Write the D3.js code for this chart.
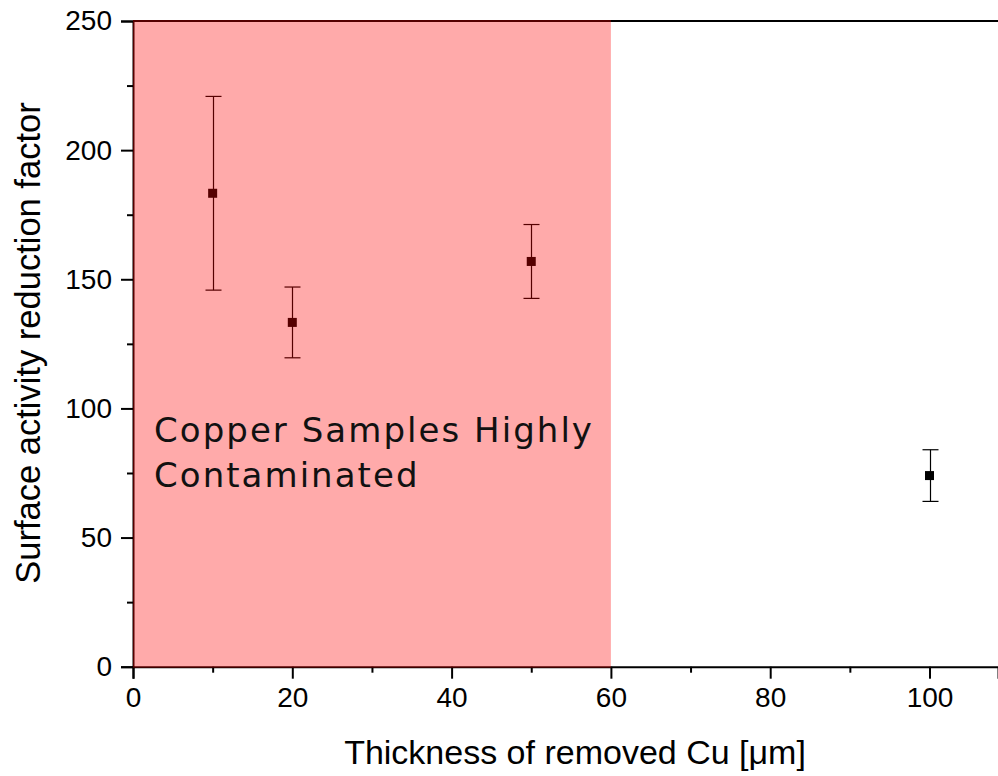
<!DOCTYPE html>
<html>
<head>
<meta charset="utf-8">
<script src="https://cdn.jsdelivr.net/npm/d3@7"></script>
<style>
  html, body { margin: 0; padding: 0; background: #fff; }
  svg { display: block; }
</style>
</head>
<body>
<svg id="chart" width="998" height="776"></svg>
<script>
// ---- data ----
const thickness = [10, 20, 50, 100];
const reduction = [183.3, 133.3, 156.9, 74.0];
const errors = [37.5, 13.7, 14.3, 10.0];
const xTicks = [0, 20, 40, 60, 80, 100];
const xMinorTicks = [10, 30, 50, 70, 90];
const yTicks = [0, 50, 100, 150, 200, 250];
const yMinorTicks = [25, 75, 125, 175, 225];
const regionRange = [0, 60];
const regionLabel = ["Copper Samples Highly", "Contaminated"];
const xTitle = "Thickness of removed Cu [\u03bcm]";
const yTitle = "Surface activity reduction factor";

// ---- layout ----
const svg = d3.select("#chart");
const plotL = 133, plotR = 998, plotT = 21, plotB = 666.7;
const x = d3.scaleLinear().domain([0, 108.6]).range([plotL, plotR]);
const y = d3.scaleLinear().domain([0, 250]).range([plotB, plotT]);
const axisFont = "'Liberation Sans', Arial, sans-serif";

// top frame line
svg.append("line")
  .attr("x1", plotL).attr("x2", plotR)
  .attr("y1", plotT).attr("y2", plotT)
  .attr("stroke", "#000").attr("stroke-width", 2);

// x axis
const gx = svg.append("g").attr("transform", `translate(0,${plotB})`);
gx.call(d3.axisBottom(x).tickValues(xTicks).tickSize(12).tickPadding(8).tickFormat(d3.format("d")));
const gxm = svg.append("g").attr("transform", `translate(0,${plotB})`);
gxm.call(d3.axisBottom(x).tickValues(xMinorTicks).tickSize(6).tickFormat(""));
gxm.select(".domain").remove();

// y axis
const gy = svg.append("g").attr("transform", `translate(${plotL},0)`);
gy.call(d3.axisLeft(y).tickValues(yTicks).tickSize(12).tickPadding(9).tickFormat(d3.format("d")));
const gym = svg.append("g").attr("transform", `translate(${plotL},0)`);
gym.call(d3.axisLeft(y).tickValues(yMinorTicks).tickSize(6).tickFormat(""));
gym.select(".domain").remove();

svg.selectAll(".domain").attr("stroke", "#000").attr("stroke-width", 2);
svg.selectAll(".tick line").attr("stroke", "#000").attr("stroke-width", 2);
svg.selectAll(".tick text")
  .attr("font-family", axisFont).attr("font-size", 28).attr("fill", "#000");

// axis titles
svg.append("text")
  .attr("x", 575).attr("y", 764)
  .attr("text-anchor", "middle")
  .attr("font-family", axisFont).attr("font-size", 34)
  .text(xTitle);
svg.append("text")
  .attr("transform", "translate(40,343) rotate(-90)")
  .attr("text-anchor", "middle")
  .attr("font-family", axisFont).attr("font-size", 34.5)
  .text(yTitle);

// error bars
const pts = thickness.map((t, i) => ({ x: t, y: reduction[i], e: errors[i] }));
const eg = svg.append("g");
pts.forEach(p => {
  const cx = Math.round(x(p.x)) + 0.5;
  eg.append("line")
    .attr("x1", cx).attr("x2", cx)
    .attr("y1", y(p.y + p.e)).attr("y2", y(p.y - p.e))
    .attr("stroke", "#000").attr("stroke-width", 1.2);
  [p.y + p.e, p.y - p.e].forEach(v => {
    eg.append("line")
      .attr("x1", cx - 8).attr("x2", cx + 8)
      .attr("y1", y(v)).attr("y2", y(v))
      .attr("stroke", "#000").attr("stroke-width", 1.2);
  });
});

// markers
svg.append("g").selectAll("rect")
  .data(pts).join("rect")
  .attr("x", d => x(d.x) - 4.5)
  .attr("y", d => y(d.y) - 4.5)
  .attr("width", 9).attr("height", 9)
  .attr("fill", "#000");

// highlighted region (drawn on top, translucent)
svg.append("rect")
  .attr("x", x(regionRange[0]))
  .attr("y", y(250) - 1)
  .attr("width", x(regionRange[1]) - x(regionRange[0]))
  .attr("height", y(0) - y(250) + 2)
  .attr("fill", "rgb(255,0,0)")
  .attr("fill-opacity", 0.333);

// region label
const targetW = 438;
const lbl = svg.append("g");
regionLabel.forEach((s, i) => {
  lbl.append("text")
    .attr("x", 154).attr("y", 442 + i * 45)
    .attr("font-family", "'DejaVu Sans', 'Open Sans', sans-serif")
    .attr("font-size", 34)
    .attr("fill", "#111")
    .text(s);
});
// match width of first line via letter-spacing
const first = lbl.select("text").node();
const w = first.getComputedTextLength();
const ls = (targetW - w) / (regionLabel[0].length - 1);
lbl.selectAll("text").attr("letter-spacing", ls);
</script>
</body>
</html>
